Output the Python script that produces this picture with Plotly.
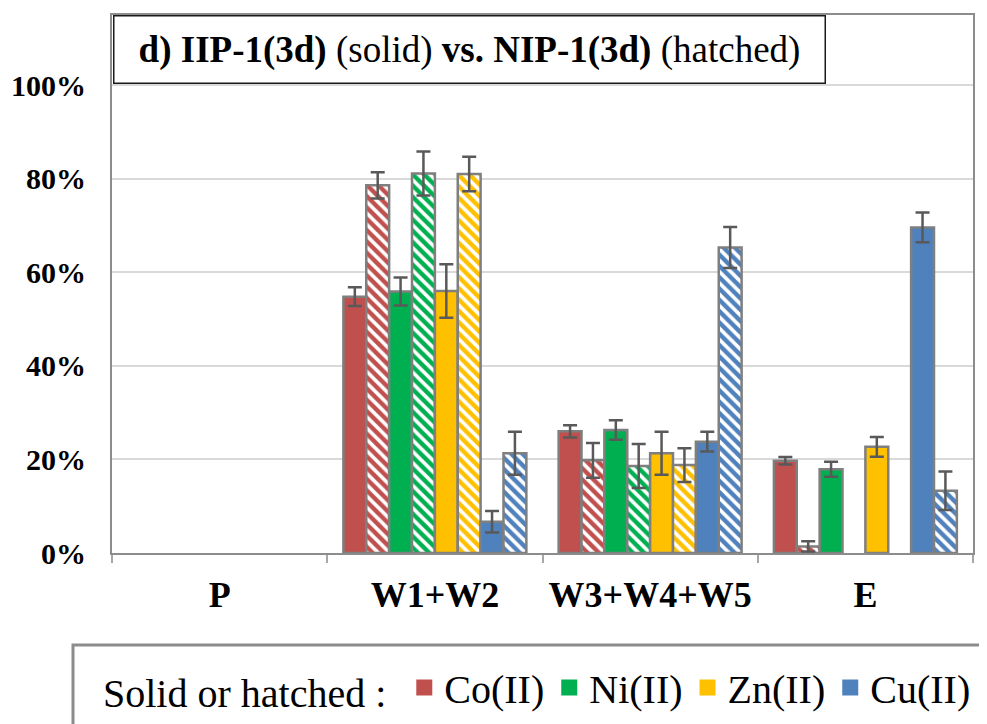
import plotly.graph_objects as go

# ---------------- data ----------------
categories = ["P", "W1+W2", "W3+W4+W5", "E"]

co_solid = [None, 54.8, 26.0, 19.7]
co_solid_err = [None, 2.0, 1.3, 0.8]
co_hatched = [None, 78.6, 19.8, 1.4]
co_hatched_err = [None, 2.8, 3.7, 1.1]

ni_solid = [None, 55.9, 26.3, 17.9]
ni_solid_err = [None, 3.0, 2.1, 1.6]
ni_hatched = [None, 81.1, 18.6, None]
ni_hatched_err = [None, 4.7, 4.7, None]

zn_solid = [None, 56.0, 21.3, 22.7]
zn_solid_err = [None, 5.7, 4.6, 2.1]
zn_hatched = [None, 81.0, 18.8, None]
zn_hatched_err = [None, 3.7, 3.6, None]

cu_solid = [None, 6.7, 23.8, 69.6]
cu_solid_err = [None, 2.3, 2.1, 3.2]
cu_hatched = [None, 21.3, 65.3, 13.3]
cu_hatched_err = [None, 4.6, 4.4, 4.1]

metals = ["Co(II)", "Ni(II)", "Zn(II)", "Cu(II)"]
colors = ["#C0504D", "#00B050", "#FFC000", "#4F81BD"]

y_tickvals = [0, 20, 40, 60, 80, 100]
y_ticktext = ["0%", "20%", "40%", "60%", "80%", "100%"]

series = [
    (co_solid, co_solid_err, co_hatched, co_hatched_err),
    (ni_solid, ni_solid_err, ni_hatched, ni_hatched_err),
    (zn_solid, zn_solid_err, zn_hatched, zn_hatched_err),
    (cu_solid, cu_solid_err, cu_hatched, cu_hatched_err),
]

# ---------------- layout geometry ----------------
# page offset (body margin) of the embedded div
OFF = 8
WIN_W, WIN_H = 987, 724
W, H = WIN_W - OFF, WIN_H - OFF
# plot area in window pixels
P_L, P_R, P_T, P_B = 112, 973, 15, 553
ML, MR, MT, MB = P_L - OFF, WIN_W - P_R, P_T - OFF, WIN_H - P_B
PW, PH = P_R - P_L, P_B - P_T


def px_x(x):
    return (x - P_L) / PW


def px_y(y):
    return (P_B - y) / PH


SERIF = "Liberation Serif"
OUTLINE = "#7F7F7F"
ERR = "#595959"

fig = go.Figure()

for (sv, se, hv, he), name, col in zip(series, metals, colors):
    fig.add_trace(go.Bar(
        x=categories, y=sv, name=name, showlegend=False,
        marker=dict(color=col, line=dict(color=OUTLINE, width=2.5)),
        error_y=dict(type="data", array=se, visible=True,
                     color=ERR, thickness=2.5, width=7),
    ))
    fig.add_trace(go.Bar(
        x=categories, y=hv, name=name + " (hatched)", showlegend=False,
        marker=dict(color=col, line=dict(color=OUTLINE, width=2.5),
                    pattern=dict(shape="\\", fillmode="overlay",
                                 fgcolor="white", fgopacity=1,
                                 size=8, solidity=0.45)),
        error_y=dict(type="data", array=he, visible=True,
                     color=ERR, thickness=2.5, width=7),
    ))

# legend entries (solid squares)
for name, col in zip(metals, colors):
    fig.add_trace(go.Scatter(
        x=[None], y=[None], mode="markers", name=name,
        marker=dict(symbol="square", size=18, color=col),
        showlegend=True,
    ))

fig.update_layout(
    width=W, height=H,
    margin=dict(l=ML, r=MR, t=MT, b=MB, pad=0, autoexpand=False),
    paper_bgcolor="white", plot_bgcolor="white",
    barmode="group", bargap=0.15, bargroupgap=0,
    font=dict(family=SERIF, color="black"),
    showlegend=True,
    legend=dict(
        orientation="h", x=px_x(101), xanchor="left",
        y=px_y(655), yanchor="top",
        font=dict(family=SERIF, size=40, color="black"),
        title=dict(text="Solid or hatched : ", side="left",
                   font=dict(family=SERIF, size=40, color="black")),
        bgcolor="rgba(0,0,0,0)", borderwidth=0,
        itemclick=False, itemdoubleclick=False,
    ),
)

fig.update_xaxes(
    type="category", categoryorder="array", categoryarray=categories,
    range=[-0.5, 3.5],
    showgrid=False, showline=True, linecolor="#8C8C8C", linewidth=2,
    mirror=True,
    ticks="outside", tickson="boundaries", ticklen=8, tickcolor="#A6A6A6",
    tickwidth=2,
    tickfont=dict(family=SERIF, size=36, color="black", weight="bold"),
    ticklabelstandoff=9,
)

fig.update_yaxes(
    range=[0, 115],
    tickvals=y_tickvals, ticktext=y_ticktext,
    showgrid=True, gridcolor="#D9D9D9", gridwidth=2,
    zeroline=False, showline=True, linecolor="#8C8C8C", linewidth=2,
    mirror=True, ticks="",
    tickfont=dict(family=SERIF, size=30, color="black", weight="bold"),
    ticklabelstandoff=18,
)

# title box (annotation with border)
fig.add_annotation(
    xref="paper", yref="paper",
    x=px_x(113), y=px_y(15), xanchor="left", yanchor="top",
    text="<b>d) IIP-1(3d)</b> (solid) <b>vs. NIP-1(3d)</b> (hatched)",
    showarrow=False, align="center",
    font=dict(family=SERIF, size=37, color="black"),
    bgcolor="white", bordercolor="#1A1A1A", borderwidth=1.5,
    width=710, height=66, borderpad=0,
)

# legend frame
fig.add_shape(
    type="rect", xref="paper", yref="paper",
    x0=px_x(73), x1=px_x(WIN_W + 20), y0=px_y(WIN_H + 20), y1=px_y(645),
    line=dict(color="#8C8C8C", width=3), fillcolor="rgba(0,0,0,0)",
    layer="above",
)

fig.write_html("out.html")
